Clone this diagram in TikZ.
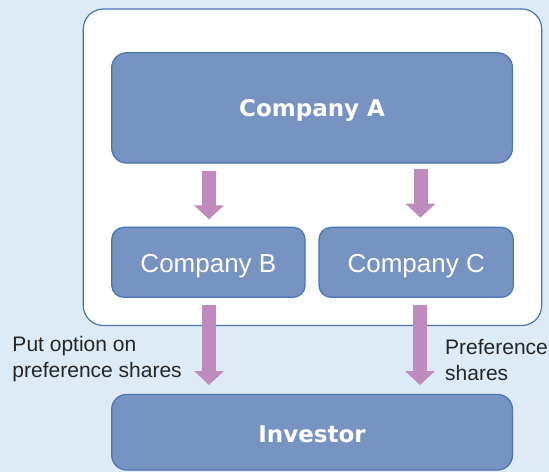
\documentclass[tikz,border=0pt]{standalone}
\usepackage{fontspec}
\setmainfont{Liberation Sans}
\newfontfamily\dvfont{DejaVu Sans}
\usetikzlibrary{arrows.meta}
\definecolor{bgblue}{HTML}{DCEBF6}
\definecolor{boxfill}{HTML}{7693C1}
\definecolor{boxline}{HTML}{4A74B4}
\definecolor{arrowpink}{HTML}{BF8BBE}
\definecolor{labeltext}{HTML}{262626}
\tikzset{
  entity/.style={draw=boxline, fill=boxfill, line width=1.2pt, inner sep=0pt, text=white, text depth=0pt},
  bigbox/.style={entity, rounded corners=15pt, minimum width=400.8pt, font=\dvfont\bfseries\fontsize{23}{27}\selectfont},
  smallbox/.style={entity, rounded corners=12pt, minimum height=70pt, text height=20.8pt, font=\fontsize{26}{30}\selectfont},
  flow/.style={draw=arrowpink, line width=14pt, -{Triangle[width=29pt,length=14pt]}},
  lbl/.style={anchor=base west, inner sep=0pt, text=labeltext, font=\fontsize{21}{26}\selectfont}
}
\begin{document}
\begin{tikzpicture}[x=1pt,y=-1pt]
\useasboundingbox (0,0) rectangle (549,472);
\fill[bgblue] (0,0) rectangle (549,472);
% container
\draw[boxline, fill=white, line width=1.2pt, rounded corners=20pt] (83.3,9) rectangle (541.7,325.5);
% boxes
\node[bigbox, minimum height=110.3pt, text height=17.6pt] (A) at (312.1,107.9) {Company A};
\node[smallbox, minimum width=193.3pt] (B) at (208.4,262.3) {Company B};
\node[smallbox, minimum width=194.3pt] (C) at (416.2,262.3) {Company C};
\node[bigbox, minimum height=75.7pt, text height=21.4pt] (I) at (312.1,432.2) {Investor};
% arrow anchor coordinates
\coordinate (a1s) at (209,170.7);
\coordinate (a1e) at (209,219.3);
\coordinate (a2s) at (420.5,169);
\coordinate (a2e) at (420.5,217.7);
\coordinate (a3s) at (209,305);
\coordinate (a3e) at (209,385);
\coordinate (a4s) at (420,305);
\coordinate (a4e) at (420,385);
\draw[flow] (a1s) -- (a1e);
\draw[flow] (a2s) -- (a2e);
\draw[flow] (a3s) -- (a3e);
\draw[flow] (a4s) -- (a4e);
% labels
\node[lbl] (l1a) at (12.3,351.6) {Put option on};
\node[lbl] (l1b) at (12.3,377.6) {preference shares};
\node[lbl] (l2a) at (445,354.5) {Preference};
\node[lbl] (l2b) at (445,380) {shares};
\end{tikzpicture}
\end{document}
